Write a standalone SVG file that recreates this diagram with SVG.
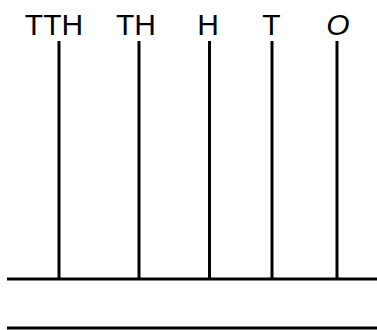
<svg xmlns="http://www.w3.org/2000/svg" width="377" height="330" viewBox="0 0 377 330">
<style>
.lbl{font-family:"Liberation Sans",Arial,sans-serif;font-size:30px;fill:#000;text-anchor:middle}
.rod{stroke:#000;stroke-width:3;fill:none}
</style>
<rect width="377" height="330" fill="#fff"/>
<g id="connectors">
<line class="rod" x1="59" y1="41" x2="59" y2="279"/>
<line class="rod" x1="139" y1="41" x2="139" y2="279"/>
<line class="rod" x1="209.5" y1="41" x2="209.5" y2="279"/>
<line class="rod" x1="272" y1="41" x2="272" y2="279"/>
<line class="rod" x1="337" y1="41" x2="337" y2="279"/>
</g>
<g id="base"><line class="rod" x1="7" y1="279" x2="377" y2="279"/></g>
<g id="bottom"><line class="rod" x1="7" y1="328" x2="377" y2="328"/></g>
<g id="n-TTH"><text class="lbl" x="54" y="35">TTH</text></g>
<g id="n-TH"><text class="lbl" x="136" y="35">TH</text></g>
<g id="n-H"><text class="lbl" x="208" y="35">H</text></g>
<g id="n-T"><text class="lbl" x="271.5" y="35">T</text></g>
<g id="n-O"><text class="lbl" x="338" y="35" font-style="italic">O</text></g>
</svg>
